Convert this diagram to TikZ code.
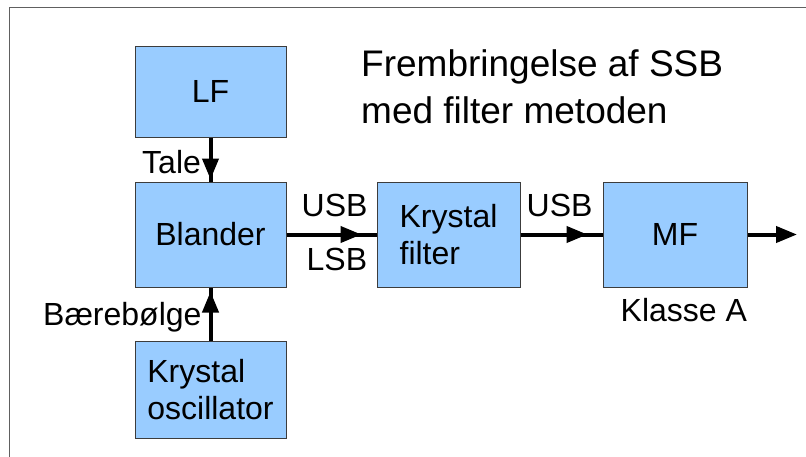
\documentclass[tikz,border=0pt]{standalone}
\usepackage{fontspec}
\setmainfont{Liberation Sans}
\usetikzlibrary{arrows.meta}
\definecolor{boxblue}{HTML}{99CCFF}
\definecolor{boxline}{HTML}{3C3C3C}
\definecolor{framegray}{HTML}{606060}
\tikzset{
  blk/.style={rectangle, draw=boxline, line width=1pt, fill=boxblue, inner sep=0pt, align=left,
    font=\fontsize{32}{37}\selectfont},
  wire/.style={line width=4pt, black},
  arr/.style={line width=4pt, black, -{Triangle[length=21pt,width=16pt]}},
  lbl/.style={inner sep=0pt, font=\fontsize{32}{37}\selectfont},
}
\begin{document}
\begin{tikzpicture}[x=1pt,y=-1pt]
\useasboundingbox (0,0) rectangle (806,456);
\draw[framegray, line width=1pt] (9,7.5) rectangle (840,490);

\node[blk, minimum width=151pt, minimum height=91pt] (lf) at (210.5,91.5) {LF};
\node[blk, minimum width=151pt, minimum height=105pt] (bl) at (210.5,234.5) {Blander};
\node[blk, minimum width=151pt, minimum height=97pt] (osc) at (210.5,389.5) {Krystal\\oscillator};
\node[blk, minimum width=143pt, minimum height=105pt] (kf) at (448.5,234.5) {Krystal\\filter};
\node[blk, minimum width=144pt, minimum height=105pt] (mf) at (675,234.5) {MF};
\coordinate (out) at (797,234.5);

% connectors
\draw[wire] (lf) -- (bl);
\draw[arr, shorten >=2pt] (lf) -- (bl);
\draw[wire] (osc) -- (bl);
\draw[arr, shorten >=4pt] (osc) -- (bl);
\draw[wire] (bl) -- (kf);
\draw[arr, shorten >=15pt] (bl) -- (kf);
\draw[wire] (kf) -- (mf);
\draw[arr, shorten >=15pt] (kf) -- (mf);
\draw[arr] (mf) -- (out);

% labels
\node[lbl, anchor=base west] (tale) at (142,173) {Tale};
\node[lbl, anchor=base west] (baere) at (43,325.5) {Bærebølge};
\node[lbl, anchor=base west] (usb1) at (301.5,216.5) {USB};
\node[lbl, anchor=base west] (lsb) at (306.5,270.5) {LSB};
\node[lbl, anchor=base west] (usb2) at (526.5,216.5) {USB};
\node[lbl, anchor=base west] (klasse) at (620.5,321.5) {Klasse A};

\node[inner sep=0pt, anchor=base west, font=\fontsize{37}{46.5}\selectfont] (title1) at (361,76.5)
  {Frembringelse af SSB};
\node[inner sep=0pt, anchor=base west, font=\fontsize{37}{46.5}\selectfont] (title2) at (361,123)
  {med filter metoden};
\end{tikzpicture}
\end{document}
